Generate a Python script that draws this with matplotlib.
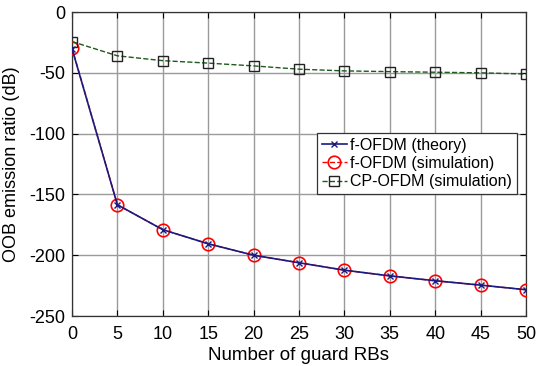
import matplotlib
matplotlib.use("Agg")
import matplotlib.pyplot as plt

guard_rbs = [0, 5, 10, 15, 20, 25, 30, 35, 40, 45, 50]
f_ofdm_theory = [-30, -158.5, -179, -190.6, -200, -206.2, -212.3, -217, -221, -224.6, -228.4]
f_ofdm_sim = [-29.5, -158.5, -179, -190.6, -200, -206.2, -212.3, -217, -221, -224.6, -228.4]
cp_ofdm_sim = [-24.3, -36, -40, -42, -44.3, -47, -48.4, -49, -49.5, -50, -51]


def main():
    plt.rcParams["font.family"] = ["Liberation Sans", "DejaVu Sans"]
    plt.rcParams["axes.unicode_minus"] = False
    fig = plt.figure(figsize=(5.42, 3.66), dpi=100)
    ax = fig.add_axes([0.1328, 0.1366, 0.8377, 0.8305])

    ax.plot(guard_rbs, f_ofdm_sim, color="red", linestyle="--", linewidth=1.0,
            marker="o", markersize=9, markerfacecolor="none", markeredgewidth=1.2,
            label="f-OFDM (simulation)", zorder=3)
    ax.plot(guard_rbs, f_ofdm_theory, color="#1a1a80", linestyle="-", linewidth=1.2,
            marker="x", markersize=5, markeredgewidth=1.0,
            label="f-OFDM (theory)", zorder=4)
    ax.plot(guard_rbs, cp_ofdm_sim, color="#1e5a1e", linestyle="--", linewidth=1.0,
            marker="s", markersize=6.5, markerfacecolor="none", markeredgewidth=1.0,
            markeredgecolor="#222222", label="CP-OFDM (simulation)", zorder=3)

    ax.set_xlim(0, 50)
    ax.set_ylim(-250, 0)
    ax.set_xticks(range(0, 51, 5))
    ax.set_yticks(range(-250, 1, 50))
    ax.grid(True, color="#9a9a9a", linewidth=1.0, linestyle="-")
    ax.tick_params(direction="in", top=True, right=True, labelsize=13, length=4)
    ax.tick_params(axis="x", pad=7)
    ax.tick_params(axis="y", pad=5)
    for s in ax.spines.values():
        s.set_color("#333333")
        s.set_linewidth(0.9)

    ax.set_xlabel("Number of guard RBs", fontsize=13.5, labelpad=3)
    ax.set_ylabel("OOB emission ratio (dB)", fontsize=13)
    ax.yaxis.set_label_coords(-0.115, 0.5)

    handles, labels = ax.get_legend_handles_labels()
    order = [1, 0, 2]
    leg = ax.legend([handles[i] for i in order], [labels[i] for i in order],
                    loc="upper right", bbox_to_anchor=(0.98, 0.602), fontsize=11.5,
                    fancybox=False, edgecolor="#333333", framealpha=1,
                    handlelength=1.6, handletextpad=0.2, borderpad=0.3,
                    labelspacing=0.2, borderaxespad=0)
    leg.get_frame().set_linewidth(0.9)

    fig.savefig("out.png", dpi=100)


if __name__ == "__main__":
    main()
